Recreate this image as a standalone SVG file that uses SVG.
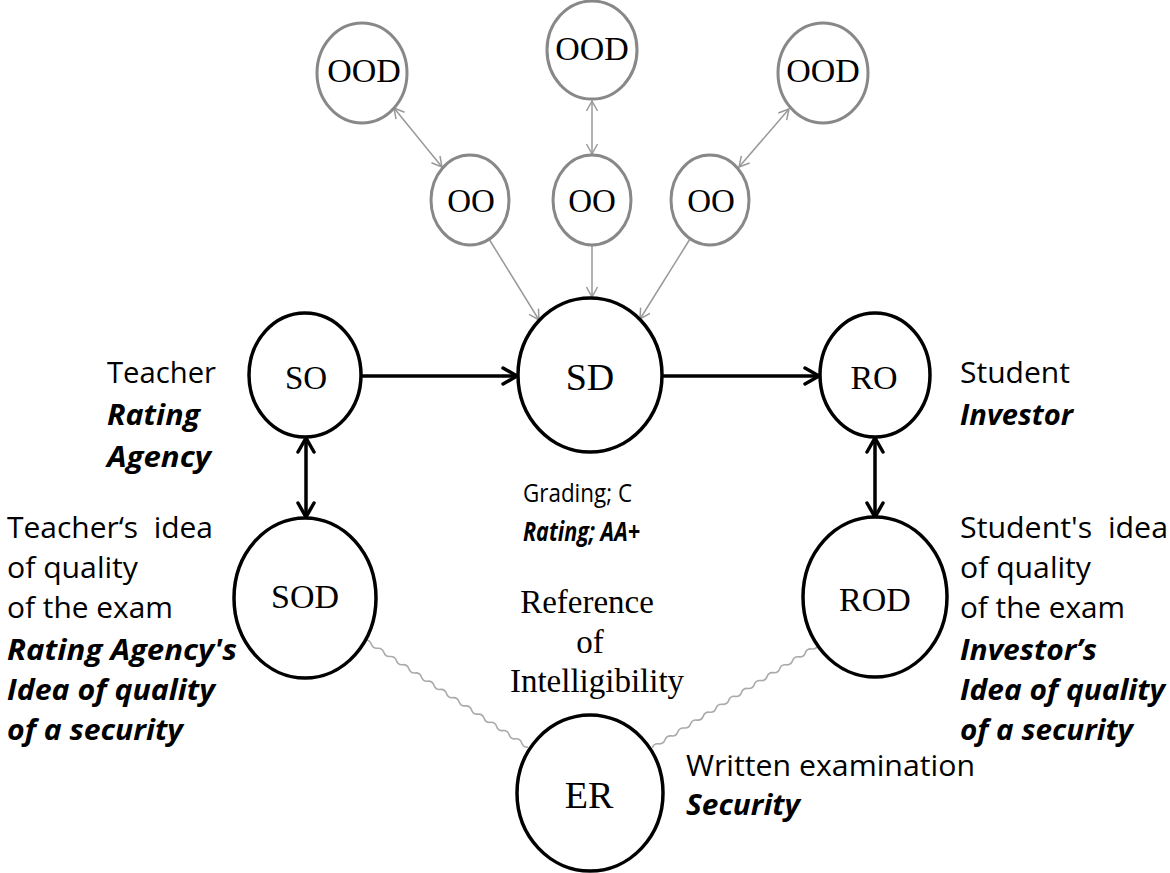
<svg xmlns="http://www.w3.org/2000/svg" width="1170" height="873" viewBox="0 0 1170 873">
<style>
.bk{fill:#fff;stroke:#000;stroke-width:3.5}
.gy{fill:#fff;stroke:#888;stroke-width:3}
.lbl{font-family:"Liberation Serif","Times New Roman",serif;fill:#000;text-anchor:middle}
.s{font-family:"Open Sans","Liberation Sans",sans-serif;font-size:29px;fill:#000;white-space:pre}
.bi{font-weight:bold;font-style:italic}
.sm{font-size:26px}
.ser{font-family:"Liberation Serif","Times New Roman",serif;font-size:33px;fill:#000;text-anchor:middle}
.ga{stroke:#999;stroke-width:1.5;fill:none}
.ba{stroke:#000;stroke-width:3.5;fill:none}
.wv{stroke:#aaa;stroke-width:1.6;fill:none}
</style>
<defs>
<marker id="gh" markerUnits="userSpaceOnUse" markerWidth="14" markerHeight="14" refX="12" refY="7" orient="auto-start-reverse" viewBox="0 0 14 14">
<path d="M2,1.5 L12,7 L2,12.5" fill="none" stroke="#999" stroke-width="1.5"/>
</marker>
<marker id="bh" markerUnits="userSpaceOnUse" markerWidth="22" markerHeight="22" refX="19" refY="11" orient="auto-start-reverse" viewBox="0 0 22 22">
<path d="M5,3 L19,11 L5,19" fill="none" stroke="#000" stroke-width="3.5" stroke-linecap="round"/>
</marker>
<path id="wave" d="M0,0 q3.75,-3 7.5,0 t7.5,0 t7.5,0 t7.5,0 t7.5,0 t7.5,0 t7.5,0 t7.5,0 t7.5,0 t7.5,0 t7.5,0 t7.5,0 t7.5,0 t7.5,0 t7.5,0 t7.5,0 t7.5,0 t7.5,0 t7.5,0 t7.5,0 t7.5,0 t7.5,0 t7.5,0 t7.5,0 t7.5,0 t7.5,0"/>
</defs>

<g id="connectors">
<line class="ga" x1="394" y1="108" x2="442" y2="167" marker-start="url(#gh)" marker-end="url(#gh)"/>
<line class="ga" x1="592" y1="101" x2="592" y2="154" marker-start="url(#gh)" marker-end="url(#gh)"/>
<line class="ga" x1="789" y1="109" x2="739" y2="167" marker-start="url(#gh)" marker-end="url(#gh)"/>
<line class="ga" x1="489" y1="239" x2="539" y2="320" marker-end="url(#gh)"/>
<line class="ga" x1="592" y1="246" x2="592" y2="297" marker-end="url(#gh)"/>
<line class="ga" x1="690" y1="239" x2="640" y2="319" marker-end="url(#gh)"/>
<line class="ba" x1="361" y1="376" x2="517" y2="376" marker-end="url(#bh)"/>
<line class="ba" x1="662" y1="376" x2="819" y2="376" marker-end="url(#bh)"/>
<line class="ba" x1="306" y1="438" x2="306" y2="517" marker-start="url(#bh)" marker-end="url(#bh)"/>
<line class="ba" x1="875" y1="438" x2="875" y2="517" marker-start="url(#bh)" marker-end="url(#bh)"/>
<use href="#wave" class="wv" transform="translate(365,640) rotate(33.3)"/>
<use href="#wave" class="wv" transform="translate(818,645) rotate(148.2)"/>
</g>

<g id="OOD1"><ellipse class="gy" cx="362" cy="73" rx="45" ry="50"/><text class="lbl" x="364" y="82" font-size="34">OOD</text></g>
<g id="OOD2"><ellipse class="gy" cx="592" cy="50" rx="45" ry="49"/><text class="lbl" x="592" y="60" font-size="34">OOD</text></g>
<g id="OOD3"><ellipse class="gy" cx="823" cy="73" rx="45" ry="50"/><text class="lbl" x="823" y="82" font-size="34">OOD</text></g>
<g id="OO1"><ellipse class="gy" cx="470" cy="200" rx="39" ry="45"/><text class="lbl" x="471" y="212" font-size="33">OO</text></g>
<g id="OO2"><ellipse class="gy" cx="592" cy="200" rx="39" ry="45"/><text class="lbl" x="592" y="212" font-size="33">OO</text></g>
<g id="OO3"><ellipse class="gy" cx="710" cy="200" rx="39" ry="45"/><text class="lbl" x="711" y="212" font-size="33">OO</text></g>

<g id="SO"><ellipse class="bk" cx="305" cy="375" rx="56" ry="62"/><text class="lbl" x="306" y="389" font-size="33">SO</text></g>
<g id="SD"><ellipse class="bk" cx="590" cy="375" rx="72" ry="77"/><text class="lbl" x="590" y="390" font-size="38">SD</text></g>
<g id="RO"><ellipse class="bk" cx="875" cy="375" rx="55" ry="62"/><text class="lbl" x="874" y="389" font-size="34">RO</text></g>
<g id="SOD"><ellipse class="bk" cx="305" cy="598" rx="71" ry="80"/><text class="lbl" x="305" y="608" font-size="34">SOD</text></g>
<g id="ROD"><ellipse class="bk" cx="875" cy="597" rx="72" ry="80"/><text class="lbl" x="875" y="611" font-size="34">ROD</text></g>
<g id="ER"><ellipse class="bk" cx="590" cy="793" rx="73" ry="78"/><text class="lbl" x="589" y="808" font-size="38">ER</text></g>

<g id="labels">
<text class="s" x="107" y="383" textLength="109" lengthAdjust="spacingAndGlyphs">Teacher</text>
<text class="s bi" x="107" y="425" textLength="93" lengthAdjust="spacingAndGlyphs">Rating</text>
<text class="s bi" x="107" y="467" textLength="104" lengthAdjust="spacingAndGlyphs">Agency</text>
<text class="s" x="7" y="538" textLength="206" lengthAdjust="spacingAndGlyphs">Teacher‘s  idea</text>
<text class="s" x="7" y="578" textLength="131" lengthAdjust="spacingAndGlyphs">of quality</text>
<text class="s" x="7" y="618" textLength="166" lengthAdjust="spacingAndGlyphs">of the exam</text>
<text class="s bi" x="7" y="660" textLength="230" lengthAdjust="spacingAndGlyphs">Rating Agency's</text>
<text class="s bi" x="7" y="700" textLength="208" lengthAdjust="spacingAndGlyphs">Idea of quality</text>
<text class="s bi" x="7" y="740" textLength="176" lengthAdjust="spacingAndGlyphs">of a security</text>

<text class="s" x="960" y="383" textLength="110" lengthAdjust="spacingAndGlyphs">Student</text>
<text class="s bi" x="960" y="425" textLength="113" lengthAdjust="spacingAndGlyphs">Investor</text>
<text class="s" x="960" y="538" textLength="208" lengthAdjust="spacingAndGlyphs">Student's  idea</text>
<text class="s" x="960" y="578" textLength="131" lengthAdjust="spacingAndGlyphs">of quality</text>
<text class="s" x="960" y="618" textLength="165" lengthAdjust="spacingAndGlyphs">of the exam</text>
<text class="s bi" x="960" y="660" textLength="137" lengthAdjust="spacingAndGlyphs">Investor’s</text>
<text class="s bi" x="960" y="700" textLength="205" lengthAdjust="spacingAndGlyphs">Idea of quality</text>
<text class="s bi" x="960" y="740" textLength="173" lengthAdjust="spacingAndGlyphs">of a security</text>

<text class="s sm" x="523" y="502" textLength="109" lengthAdjust="spacingAndGlyphs">Grading; C</text>
<text class="s bi sm" x="523" y="541" textLength="117" lengthAdjust="spacingAndGlyphs">Rating; AA+</text>

<text class="ser" x="587" y="613">Reference</text>
<text class="ser" x="590" y="653">of</text>
<text class="ser" x="597" y="692">Intelligibility</text>

<text class="s" x="686" y="776" textLength="289" lengthAdjust="spacingAndGlyphs">Written examination</text>
<text class="s bi" x="686" y="815" textLength="114" lengthAdjust="spacingAndGlyphs">Security</text>
</g>
</svg>
